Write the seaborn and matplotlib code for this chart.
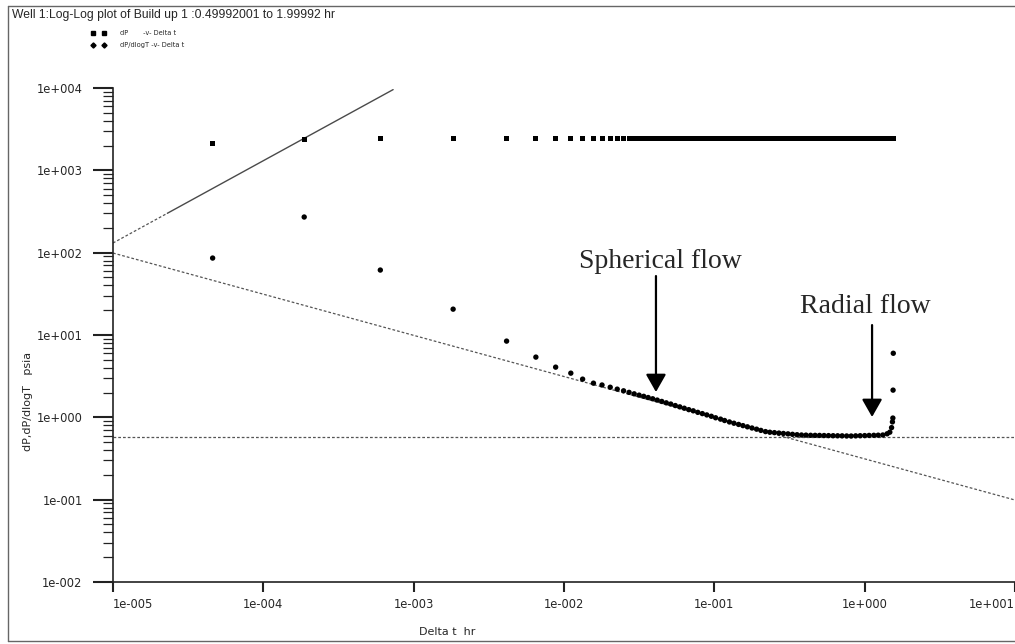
import numpy as np
import pandas as pd
import matplotlib
matplotlib.use("Agg")
import matplotlib.pyplot as plt
import seaborn as sns
from matplotlib.lines import Line2D
from matplotlib.ticker import FixedLocator, NullLocator, NullFormatter

sns.set_style("white")
plt.rcParams["font.family"] = ["DejaVu Sans"]

# ---- build-up test data: elapsed time (hr), pressure change and derivative (psia)
delta_t_hr = [
    4.6e-5, 1.87e-4, 6.0e-4, 1.83e-3, 4.15e-3, 6.5e-3, 8.8e-3, 1.11e-2,
    1.33e-2, 1.57e-2, 1.79e-2, 2.03e-2, 2.26e-2, 2.49e-2, 2.71e-2, 2.93e-2,
    0.0316, 0.0339, 0.0363, 0.0389, 0.0417, 0.0447, 0.0479, 0.0513,
    0.0550, 0.0589, 0.0631, 0.0676, 0.0724, 0.0776, 0.0832, 0.0891,
    0.0955, 0.102, 0.110, 0.117, 0.126, 0.135, 0.145, 0.155,
    0.166, 0.178, 0.191, 0.204, 0.219, 0.234, 0.251, 0.269,
    0.288, 0.309, 0.331, 0.355, 0.380, 0.407, 0.437, 0.468,
    0.501, 0.537, 0.575, 0.617, 0.661, 0.708, 0.759, 0.813,
    0.871, 0.933, 1.00, 1.07, 1.15, 1.23, 1.32, 1.41,
    1.47, 1.51, 1.53, 1.54, 1.545, 1.55,
]
dp_psi = [
    2090, 2400, 2460, 2460, 2460, 2460, 2460, 2460,
    2460, 2460, 2460, 2460, 2460, 2460, 2460, 2460,
    2460, 2460, 2460, 2460, 2460, 2460, 2460, 2460,
    2460, 2460, 2460, 2460, 2460, 2460, 2460, 2460,
    2460, 2460, 2460, 2460, 2460, 2460, 2460, 2460,
    2460, 2460, 2460, 2460, 2460, 2460, 2460, 2460,
    2460, 2460, 2460, 2460, 2460, 2460, 2460, 2460,
    2460, 2460, 2460, 2460, 2460, 2460, 2460, 2460,
    2460, 2460, 2460, 2460, 2460, 2460, 2460, 2460,
    2460, 2460, 2460, 2460, 2460, 2460,
]
dp_dlogt_psi = [
    86, 271, 61.5, 20.6, 8.43, 5.39, 4.07, 3.44,
    2.91, 2.60, 2.47, 2.32, 2.20, 2.10, 2.01, 1.93,
    1.86, 1.80, 1.74, 1.68, 1.62, 1.56, 1.50, 1.45,
    1.39, 1.34, 1.29, 1.24, 1.20, 1.15, 1.11, 1.07,
    1.03, 0.988, 0.951, 0.915, 0.879, 0.848, 0.820, 0.793,
    0.767, 0.742, 0.718, 0.694, 0.671, 0.659, 0.652, 0.644,
    0.637, 0.630, 0.622, 0.615, 0.610, 0.608, 0.605, 0.604,
    0.603, 0.601, 0.600, 0.598, 0.597, 0.596, 0.594, 0.593,
    0.596, 0.598, 0.600, 0.603, 0.605, 0.607, 0.610, 0.631,
    0.66, 0.75, 0.88, 0.98, 2.14, 6.0,
]

# ---- diagnostic straight lines
wbs_t = [1e-5, 2.3e-5, 7.3e-4]        # unit-slope (wellbore storage)
wbs_p = [131, 301, 9560]
sph_t = [1e-5, 10]                     # -1/2 slope (spherical flow)
sph_p = [99, 0.099]
rad_t = [1e-5, 10]                     # zero slope (radial flow)
rad_p = [0.575, 0.575]

x_decades = [-5, -4, -3, -2, -1, 0, 1]
y_decades = [-2, -1, 0, 1, 2, 3, 4]

title = "Well 1:Log-Log plot of Build up 1 :0.49992001 to 1.99992 hr"


def sci_label(e):
    return "1e" + ("+" if e >= 0 else "-") + f"{abs(e):03d}"


W, H = 1015, 644
fig = plt.figure(figsize=(W / 100, H / 100), dpi=100)
ax = fig.add_axes([113 / W, 1 - 582 / H, 902 / W, 494 / H])
ax.set_xscale("log")
ax.set_yscale("log")

df = pd.DataFrame({"Delta t": delta_t_hr, "dP": dp_psi, "dP/dlogT": dp_dlogt_psi})

# reference lines
dot = (0, (2.2, 1.6))
ax.plot(wbs_t[:2], wbs_p[:2], color="#555555", lw=0.9, ls=dot, zorder=1)
ax.plot(wbs_t[1:], wbs_p[1:], color="#4a4a4a", lw=1.0, ls="-", zorder=1)
ax.plot(sph_t, sph_p, color="#555555", lw=0.9, ls=dot, zorder=1)
ax.plot(rad_t, rad_p, color="#555555", lw=0.9, ls=dot, zorder=1)

sns.scatterplot(data=df, x="Delta t", y="dP", marker="s", s=13, color="black",
                edgecolor="none", linewidth=0, ax=ax, legend=False, zorder=3)
sns.scatterplot(data=df, x="Delta t", y="dP/dlogT", marker="o", s=15, color="black",
                edgecolor="none", linewidth=0, ax=ax, legend=False, zorder=3)

ax.set_xlim(1e-5, 10)
ax.set_ylim(1e-2, 1e4)
ax.set_xlabel("")
ax.set_ylabel("")

for side in ("top", "right"):
    ax.spines[side].set_visible(False)
for side in ("left", "bottom"):
    ax.spines[side].set_color("#222222")
    ax.spines[side].set_linewidth(1.2)

ax.xaxis.set_major_locator(FixedLocator([10.0 ** e for e in x_decades]))
ax.xaxis.set_minor_locator(NullLocator())
ax.set_xticklabels([sci_label(e) for e in x_decades])
ax.yaxis.set_major_locator(FixedLocator([10.0 ** e for e in y_decades]))
ax.yaxis.set_minor_locator(FixedLocator([m * 10.0 ** e for e in y_decades[:-1] for m in range(2, 10)]))
ax.yaxis.set_minor_formatter(NullFormatter())
ax.set_yticklabels([sci_label(e) for e in y_decades])

ax.tick_params(axis="y", which="major", direction="out", length=14.4, width=1.5,
               pad=7.5, labelsize=8.3, color="#222222", left=True)
ax.tick_params(axis="y", which="minor", direction="out", length=7.2, width=0.9,
               color="#222222", left=True)
ax.tick_params(axis="x", which="major", direction="out", length=7.2, width=1.5,
               pad=4, labelsize=8.3, color="#222222", bottom=True)
xl = ax.get_xticklabels()
xl[0].set_ha("left")
xl[-1].set_ha("right")

# flow-regime annotations
ax.text(0.0435, 65, "Spherical flow", family="Liberation Serif", fontsize=20,
        ha="center", va="baseline")
ax.annotate("", xy=(0.0409, 2.03), xytext=(0.0409, 52),
            arrowprops=dict(arrowstyle="-|>,head_length=0.72,head_width=0.41",
                            mutation_scale=15, lw=1.6, color="black",
                            shrinkA=0, shrinkB=0))
ax.text(1.005, 18.5, "Radial flow", family="Liberation Serif", fontsize=20,
        ha="center", va="baseline")
ax.annotate("", xy=(1.12, 1.01), xytext=(1.12, 13.2),
            arrowprops=dict(arrowstyle="-|>,head_length=0.72,head_width=0.41",
                            mutation_scale=15, lw=1.6, color="black",
                            shrinkA=0, shrinkB=0))

# figure texts
fig.text(12 / W, 1 - 15 / H, title, ha="left", va="center", fontsize=8.7,
         family="Liberation Sans")
fig.text(447 / W, 1 - 632 / H, "Delta t  hr", ha="center", va="center", fontsize=8)
fig.text(28 / W, 1 - 401 / H, "dP,dP/dlogT   psia", rotation=90, ha="center",
         va="center", fontsize=8)

handles = [Line2D([], [], marker="s", ls="none", color="black", ms=3),
           Line2D([], [], marker="D", ls="none", color="black", ms=2.6)]
fig.legend(handles, ["dP       -v- Delta t", "dP/dlogT -v- Delta t"],
           loc="upper left", bbox_to_anchor=(91 / W, 1 - 30 / H), frameon=False,
           fontsize=4.8, numpoints=2, handlelength=2.3, handletextpad=2.0,
           labelspacing=0.9, borderpad=0, borderaxespad=0)

# frame around the plot page
frame_kw = dict(color="#666666", lw=1.0, transform=fig.transFigure)
fig.add_artist(Line2D([8 / W, 1], [1 - 6 / H, 1 - 6 / H], **frame_kw))
fig.add_artist(Line2D([8 / W, 8 / W], [1 - 6 / H, 1 - 641 / H], **frame_kw))
fig.add_artist(Line2D([8 / W, 1], [1 - 641 / H, 1 - 641 / H], **frame_kw))

fig.savefig("out.png", dpi=100)
